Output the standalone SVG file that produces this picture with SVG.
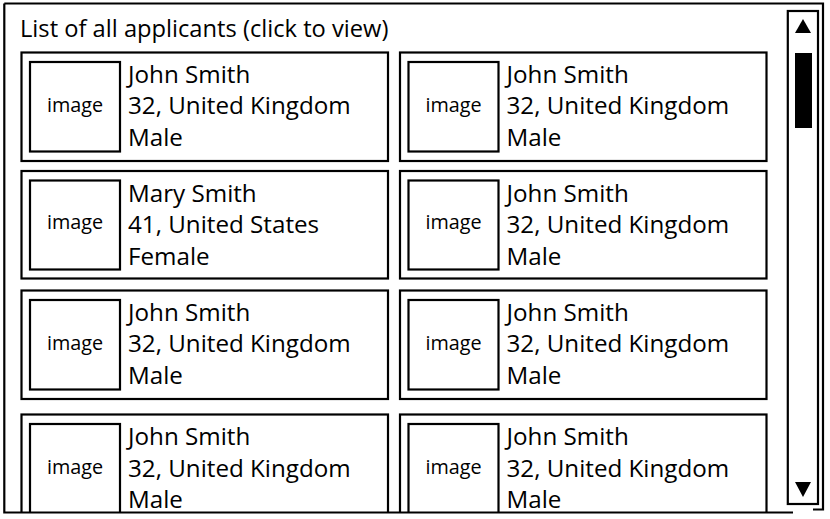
<svg xmlns="http://www.w3.org/2000/svg" width="830" height="519" viewBox="0 0 830 519">
<style>
.box{fill:#fff;stroke:#000;stroke-width:2.2}
.frame{fill:none;stroke:#000;stroke-width:2.2}
.t{font-family:"Open Sans","Liberation Sans",sans-serif;font-size:24.2px;fill:#000}
.lbl{font-family:"Open Sans","Liberation Sans",sans-serif;font-size:19.8px;fill:#000;text-anchor:middle}
.title{font-family:"Open Sans","Liberation Sans",sans-serif;font-size:23.7px;fill:#000}
.solid{fill:#000;stroke:none}
</style>
<defs>
<clipPath id="view"><rect x="0" y="0" width="830" height="512"/></clipPath>
</defs>
<rect x="0" y="0" width="830" height="519" fill="#fff"/>
<g id="title"><text class="title" x="20" y="36.5">List of all applicants (click to view)</text></g>
<g clip-path="url(#view)">
<g id="card-r1c1" transform="translate(21.5,52.5)">
<rect class="box" x="0" y="0" width="366.5" height="108.5"/>
<rect class="box" x="8.5" y="9.5" width="90" height="89.5"/>
<text class="lbl" x="53.5" y="59">image</text>
<text class="t" x="106.5" y="30">John Smith</text>
<text class="t" x="106.5" y="61.5">32, United Kingdom</text>
<text class="t" x="106.5" y="93.5">Male</text>
</g>
<g id="card-r1c2" transform="translate(400,52.5)">
<rect class="box" x="0" y="0" width="366.5" height="108.5"/>
<rect class="box" x="8.5" y="9.5" width="90" height="89.5"/>
<text class="lbl" x="53.5" y="59">image</text>
<text class="t" x="106.5" y="30">John Smith</text>
<text class="t" x="106.5" y="61.5">32, United Kingdom</text>
<text class="t" x="106.5" y="93.5">Male</text>
</g>
<g id="card-r2c1" transform="translate(21.5,171)">
<rect class="box" x="0" y="0" width="366.5" height="107.5"/>
<rect class="box" x="8.5" y="9.5" width="90" height="89"/>
<text class="lbl" x="53.5" y="58">image</text>
<text class="t" x="106.5" y="30.5">Mary Smith</text>
<text class="t" x="106.5" y="62">41, United States</text>
<text class="t" x="106.5" y="93.5">Female</text>
</g>
<g id="card-r2c2" transform="translate(400,171)">
<rect class="box" x="0" y="0" width="366.5" height="107.5"/>
<rect class="box" x="8.5" y="9.5" width="90" height="89"/>
<text class="lbl" x="53.5" y="58">image</text>
<text class="t" x="106.5" y="30.5">John Smith</text>
<text class="t" x="106.5" y="62">32, United Kingdom</text>
<text class="t" x="106.5" y="93.5">Male</text>
</g>
<g id="card-r3c1" transform="translate(21.5,290.5)">
<rect class="box" x="0" y="0" width="366.5" height="108.5"/>
<rect class="box" x="8.5" y="9.5" width="90" height="89.5"/>
<text class="lbl" x="53.5" y="59">image</text>
<text class="t" x="106.5" y="30">John Smith</text>
<text class="t" x="106.5" y="61.5">32, United Kingdom</text>
<text class="t" x="106.5" y="93.5">Male</text>
</g>
<g id="card-r3c2" transform="translate(400,290.5)">
<rect class="box" x="0" y="0" width="366.5" height="108.5"/>
<rect class="box" x="8.5" y="9.5" width="90" height="89.5"/>
<text class="lbl" x="53.5" y="59">image</text>
<text class="t" x="106.5" y="30">John Smith</text>
<text class="t" x="106.5" y="61.5">32, United Kingdom</text>
<text class="t" x="106.5" y="93.5">Male</text>
</g>
<g id="card-r4c1" transform="translate(21.5,414.5)">
<rect class="box" x="0" y="0" width="366.5" height="130"/>
<rect class="box" x="8.5" y="9.5" width="90" height="110"/>
<text class="lbl" x="53.5" y="59">image</text>
<text class="t" x="106.5" y="30.5">John Smith</text>
<text class="t" x="106.5" y="62">32, United Kingdom</text>
<text class="t" x="106.5" y="93">Male</text>
</g>
<g id="card-r4c2" transform="translate(400,414.5)">
<rect class="box" x="0" y="0" width="366.5" height="130"/>
<rect class="box" x="8.5" y="9.5" width="90" height="110"/>
<text class="lbl" x="53.5" y="59">image</text>
<text class="t" x="106.5" y="30.5">John Smith</text>
<text class="t" x="106.5" y="62">32, United Kingdom</text>
<text class="t" x="106.5" y="93">Male</text>
</g>
</g>
<g id="scrollbar">
<rect class="box" x="787.8" y="11" width="30.2" height="493" stroke-width="2.5"/>
<polygon class="solid" points="795,33 811,33 803,19"/>
<rect class="solid" x="795" y="53" width="17" height="75"/>
<polygon class="solid" points="795,482 811,482 803,497"/>
</g>
<g id="window-frame">
<path class="frame" d="M4.3,3.5 H823 V509.5 H813"/>
<path class="frame" d="M4.3,3.5 V512.5 H793"/>
</g>
</svg>
